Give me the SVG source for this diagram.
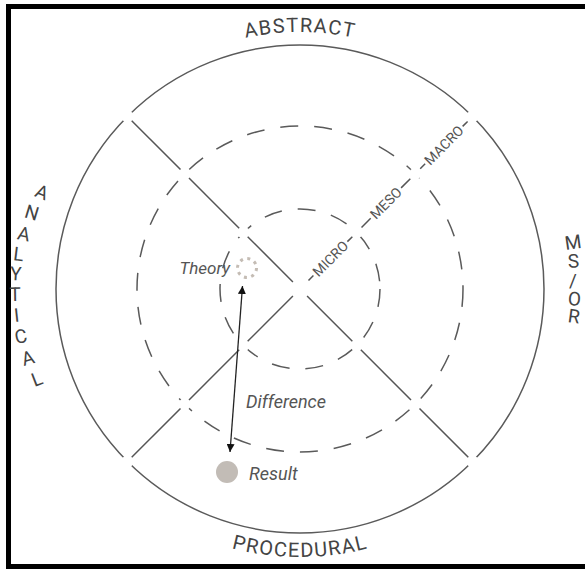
<svg xmlns="http://www.w3.org/2000/svg" width="585" height="569" viewBox="0 0 585 569">
<style>
.ring{fill:none;stroke:#5a5a5a;stroke-width:1.5}
.dash{stroke-dasharray:18 16}
.diag{stroke:#555;stroke-width:1.5;fill:none}
.lbl{font-family:Roboto,"Liberation Sans",sans-serif;fill:#444}
.big{font-size:20px;letter-spacing:1.3px}
.side{font-size:19px}
.scale{font-size:14px;fill:#555}
.it{font-family:Roboto,"Liberation Sans",sans-serif;font-style:italic;fill:#555}
</style>
<defs>
<marker id="ah" viewBox="0 0 10 10" refX="10" refY="5" markerWidth="8" markerHeight="8" markerUnits="userSpaceOnUse" orient="auto-start-reverse">
<path d="M0,0 L10,5 L0,10 z" fill="#111"/>
</marker>
<mask id="gaps" maskUnits="userSpaceOnUse" x="0" y="0" width="585" height="569">
<rect x="0" y="0" width="585" height="569" fill="#fff"/>
<g fill="#000">
<circle cx="243.4" cy="232.4" r="6"/><circle cx="356.6" cy="232.4" r="6"/><circle cx="243.4" cy="345.6" r="6"/><circle cx="356.6" cy="345.6" r="6"/>
<circle cx="184.7" cy="173.7" r="6"/><circle cx="415.3" cy="173.7" r="6"/><circle cx="184.7" cy="404.3" r="6"/><circle cx="415.3" cy="404.3" r="6"/>
<circle cx="127.5" cy="116.5" r="6"/><circle cx="472.5" cy="116.5" r="6"/><circle cx="127.5" cy="461.5" r="6"/><circle cx="472.5" cy="461.5" r="6"/>
</g>
</mask>
<path id="arcTop" d="M118.3,107.3 A257,257 0 0 1 481.7,107.3"/>
<path id="arcBot" d="M110.5,478.5 A268,268 0 0 0 489.5,478.5"/>
</defs>
<rect width="585" height="569" fill="#fff"/>
<g id="frame" fill="#000">
<rect x="6" y="4" width="579" height="5"/>
<rect x="6" y="4" width="5" height="565"/>
<rect x="6" y="564" width="579" height="5"/>
</g>
<g id="rings" mask="url(#gaps)">
<circle id="outer" class="ring" cx="300" cy="289" r="244"/>
<circle id="middle" class="ring dash" cx="300" cy="289" r="163"/>
<circle id="inner" class="ring dash" cx="300" cy="289" r="80"/>
</g>
<g id="connectors">
<g class="diag">
<path d="M292.93,281.93 L247.67,236.67 M239.19,228.19 L188.99,177.99 M180.5,169.5 L131.71,120.71"/>
<path d="M292.93,296.07 L247.67,341.33 M239.19,349.81 L188.99,400.01 M180.5,408.5 L131.71,457.29"/>
<path d="M307.07,296.07 L352.33,341.33 M360.81,349.81 L411.01,400.01 M419.5,408.5 L468.29,457.29"/>
<path d="M308.49,280.51 L313.43,275.57 M347.38,241.62 L352.33,236.67 M361.52,227.48 L370.71,218.29 M401.11,187.89 L410.31,178.69 M420.21,168.79 L425.16,163.84 M462.63,126.37 L467.58,121.42"/>
</g>
<line id="difference-arrow" x1="242.5" y1="286" x2="230" y2="452" stroke="#222" stroke-width="1.3" marker-start="url(#ah)" marker-end="url(#ah)"/>
</g>
<g id="scale-labels" class="lbl scale" text-anchor="middle">
<text transform="translate(330.4,258.6) rotate(-45)" y="5">MICRO</text>
<text transform="translate(385.9,203.1) rotate(-45)" y="5">MESO</text>
<text transform="translate(443.9,145.1) rotate(-45)" y="5">MACRO</text>
</g>
<g id="abstract"><text class="lbl big"><textPath href="#arcTop" startOffset="50%" text-anchor="middle">ABSTRACT</textPath></text></g>
<g id="procedural"><text class="lbl big"><textPath href="#arcBot" startOffset="50%" text-anchor="middle">PROCEDURAL</textPath></text></g>
<g id="analytical"><text class="lbl side" text-anchor="middle" x="40 30.3 22.6 17.8 15.4 15.2 17.4 22.3 29.9 39.5" y="196 217 239 260 280 301 322 344 366 387" rotate="22 17 12 7 3 -1 -6 -11 -16 -21">ANALYTICAL</text></g>
<g id="msor"><text class="lbl side" text-anchor="middle" x="574 574 573 574 573" y="250 268 287 305 322" rotate="-8 -4 0 4 8">MS/OR</text></g>
<g id="theory">
<circle cx="247" cy="268" r="9.5" fill="none" stroke="#c4bcb4" stroke-width="3" stroke-dasharray="3 4.46"/>
<text class="it" x="230" y="274" font-size="17" text-anchor="end">Theory</text>
</g>
<g id="result">
<circle cx="227" cy="472" r="11" fill="#c2bcb6"/>
<text class="it" x="249" y="480" font-size="18">Result</text>
</g>
<g id="difference"><text class="it" x="246" y="408" font-size="18">Difference</text></g>
</svg>
